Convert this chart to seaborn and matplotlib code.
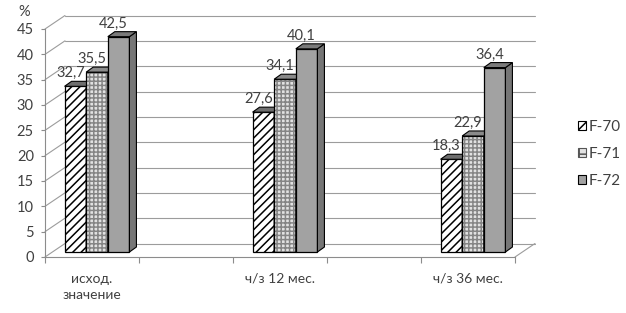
import numpy as np
import pandas as pd
import seaborn as sns
import matplotlib
matplotlib.use("Agg")
import matplotlib.pyplot as plt
from matplotlib.patches import Polygon, Patch

# ---- data ----
categories = ["исход.\nзначение", "ч/з 12 мес.", "ч/з 36 мес."]
series = ["F-70", "F-71", "F-72"]
f70 = [32.7, 27.6, 18.3]
f71 = [35.5, 34.1, 22.9]
f72 = [42.5, 40.1, 36.4]
y_ticks = [0, 5, 10, 15, 20, 25, 30, 35, 40, 45]

df = pd.DataFrame({
    "cat": categories * 3,
    "series": [s for s in series for _ in categories],
    "value": f70 + f71 + f72,
})

sns.set_style("white")
plt.rcParams['font.family'] = ['Lato', 'Noto Sans', 'DejaVu Sans']
plt.rcParams['hatch.linewidth'] = 1.1

W, H = 626, 313
fig = plt.figure(figsize=(W / 100, H / 100), dpi=100)
fig.patch.set_facecolor("white")
ax = fig.add_axes([45 / W, (H - 257) / H, 470 / W, 228 / H])

sns.barplot(data=df, x="cat", y="value", hue="series", order=categories,
            hue_order=series, width=0.345, errorbar=None, legend=False,
            palette=["white", "#e4e4e4", "#a4a4a4"], ax=ax)

ax.set_xlim(-0.25, 2.25)
ax.set_ylim(0, 45)
px = 2.5 / 470.0
py = 45.0 / 228.0

ox, oy = 5 * px, 5 * py        # bar placement depth offset
dx, dy = 7 * px, 5 * py        # bar depth
gdx, gdy = 20 * px, 13.5 * py  # back wall offset

text_c = "#404040"
grid_c = "#9c9c9c"

styles = [
    dict(face="white", hatch="////", hc="black", top="#6e6e6e", side="#6e6e6e"),
    dict(face="#e2e2e2", hatch="++++", hc="#858585", top="#8a8a8a", side="#8a8a8a"),
    dict(face="#a2a2a2", hatch=None, hc="black", top="#7a7a7a", side="#767676"),
]
values = [f70, f71, f72]

for i, cont in enumerate(ax.containers):
    st = styles[i]
    z = 3 + i * 0.1
    for j, rect in enumerate(cont):
        x = rect.get_x() + ox
        w = rect.get_width()
        h = rect.get_height()
        rect.set_x(x)
        rect.set_y(oy)
        rect.set_facecolor(st["face"])
        rect.set_zorder(z)
        rect.set_clip_on(False)
        if st["hatch"]:
            rect.set_hatch(st["hatch"])
            rect.set_edgecolor(st["hc"])
            rect.set_linewidth(0)
            outline = plt.Rectangle((x, oy), w, h, facecolor="none",
                                    edgecolor="black", lw=0.9, zorder=z + 0.01,
                                    clip_on=False)
            ax.add_patch(outline)
        else:
            rect.set_edgecolor("black")
            rect.set_linewidth(0.9)
        top = Polygon([(x, oy + h), (x + w, oy + h), (x + w + dx, oy + h + dy),
                       (x + dx, oy + h + dy)], closed=True, facecolor=st["top"],
                      edgecolor="black", lw=0.8, zorder=z + 0.05, clip_on=False)
        side = Polygon([(x + w, oy), (x + w + dx, oy + dy), (x + w + dx, oy + h + dy),
                        (x + w, oy + h)], closed=True, facecolor=st["side"],
                       edgecolor="black", lw=0.8, zorder=z + 0.05, clip_on=False)
        ax.add_patch(side)
        ax.add_patch(top)
        v = values[i][j]
        ax.text(x + w / 2 - 5 * px, v + oy + 13 * py, f"{v:.1f}".replace(".", ","),
                ha="center", va="center", fontsize=10.5, color=text_c, zorder=2.9)

# back wall / left wall grid
for v in y_ticks:
    ax.plot([-0.25, -0.25 + gdx], [v, v + gdy], color=grid_c, lw=0.8,
            clip_on=False, zorder=1)
    ax.plot([-0.25 + gdx, 2.25 + gdx], [v + gdy, v + gdy], color=grid_c, lw=0.8,
            clip_on=False, zorder=1)
ax.plot([2.25, 2.25 + gdx], [0, gdy], color=grid_c, lw=0.8, clip_on=False, zorder=1)

# axes styling
for s in ["top", "right"]:
    ax.spines[s].set_visible(False)
for s in ["left", "bottom"]:
    ax.spines[s].set_color("#8c8c8c")
    ax.spines[s].set_linewidth(0.8)
ax.set_xlabel("")
ax.set_ylabel("")
ax.set_yticks(y_ticks)
ax.set_yticklabels([str(t) for t in y_ticks])
ax.tick_params(axis="y", length=3, width=0.8, color="#8c8c8c", pad=5,
               labelsize=10.5, labelcolor=text_c, left=True)
ax.set_xticks([0, 1, 2])
ax.set_xticklabels(categories, linespacing=1.45)
ax.tick_params(axis="x", which="major", length=0, pad=11.5, labelsize=10,
               labelcolor=text_c)
ax.set_xticks([-0.25, 0.25, 0.75, 1.25, 1.75, 2.25], minor=True)
ax.tick_params(axis="x", which="minor", length=4, width=0.8, color="#8c8c8c",
               bottom=True)
ax.patch.set_alpha(0)

fig.text(24 / W, 1 - 12 / H, "%", ha="center", va="center", fontsize=10.5,
         color=text_c)

handles = [
    Patch(facecolor="white", edgecolor="black", hatch="////", lw=0.8),
    Patch(facecolor="#e2e2e2", edgecolor="#555555", hatch="++", lw=0.8),
    Patch(facecolor="#a2a2a2", edgecolor="black", lw=0.8),
]
fig.legend(handles, series, loc="center left", bbox_to_anchor=(570 / W, 1 - 154 / H),
           frameon=False, handlelength=0.55, handleheight=0.55, handletextpad=0.15,
           labelspacing=0.85, fontsize=11, labelcolor=text_c, borderpad=0)

fig.savefig("out.png", dpi=100, facecolor="white")
